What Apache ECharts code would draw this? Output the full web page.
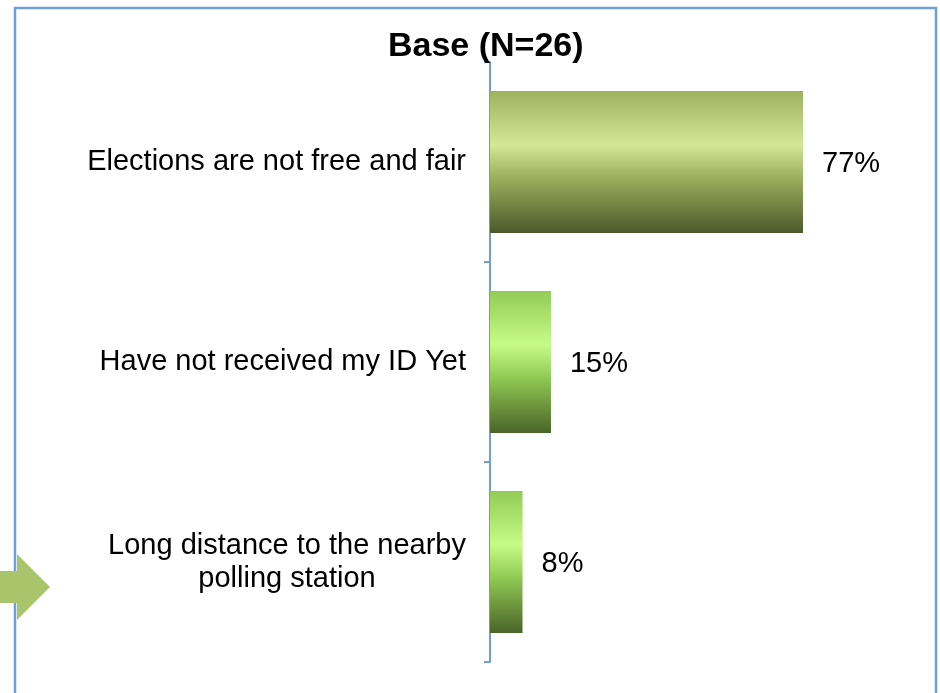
<!DOCTYPE html>
<html>
<head>
<meta charset="utf-8">
<script src="https://cdn.jsdelivr.net/npm/echarts@6/dist/echarts.min.js"></script>
<style>
  html, body { margin: 0; padding: 0; background: #fff; }
  #chart { width: 940px; height: 693px; }
</style>
</head>
<body>
<div id="chart"></div>
<script>
// data
let categories = ['Elections are not free and fair', 'Have not received my ID Yet', 'Long distance to the nearby\npolling station']
let values = [77, 15, 8]
let titleText = 'Base (N=26)'

let chart = echarts.init(document.getElementById('chart'))

function barFill(top, light, bottom) {
  return new echarts.graphic.LinearGradient(0, 0, 0, 1, [
    { offset: 0, color: top },
    { offset: 0.38, color: light },
    { offset: 0.6, color: top },
    { offset: 1, color: bottom }
  ])
}
let fills = [
  barFill('#9db25e', '#d2e894', '#4b592a'),
  barFill('#92cc55', '#c6fb87', '#4a6428'),
  barFill('#92cc55', '#c6fb87', '#4a6428')
]

let option = {
  backgroundColor: '#fff',
  animation: false,
  title: {
    text: titleText,
    left: 383,
    top: 25,
    textStyle: { fontFamily: 'Liberation Sans', fontSize: 34, fontWeight: 'bold', color: '#000' }
  },
  grid: { left: 490, top: 62, width: 406.5, height: 600 },
  xAxis: {
    type: 'value', min: 0, max: 100, show: false
  },
  yAxis: {
    type: 'category',
    data: categories,
    inverse: true,
    axisLine: { lineStyle: { color: '#6a9fd8', width: 2 } },
    axisTick: { show: true, length: 6, lineStyle: { color: '#6a9fd8', width: 2 } },
    axisLabel: {
      margin: 24,
      formatter: function (v) { return '{c|' + v + '}' },
      rich: {
        c: { fontFamily: 'Liberation Sans', fontSize: 29, color: '#000', lineHeight: 33, align: 'center' }
      }
    }
  },
  series: [{
    type: 'bar',
    barCategoryGap: '29%',
    data: values.map(function (v, i) { return { value: v, itemStyle: { color: fills[i] } } }),
    label: {
      show: true,
      position: 'right',
      distance: 19,
      formatter: '{c}%',
      fontFamily: 'Liberation Sans',
      fontSize: 29,
      color: '#000',
      offset: [0, 2]
    }
  }],
  graphic: [
    {
      type: 'rect', z: 10,
      shape: { x: 15, y: 8, width: 921, height: 720 },
      style: { fill: 'none', stroke: '#6f9fd8', lineWidth: 2.5 }
    },
    {
      type: 'polygon', z: 11,
      shape: { points: [[0, 571], [17, 571], [17, 554], [50, 587], [17, 620], [17, 603], [0, 603]] },
      style: { fill: '#a9c56c' }
    }
  ]
}

chart.setOption(option)
</script>
</body>
</html>
